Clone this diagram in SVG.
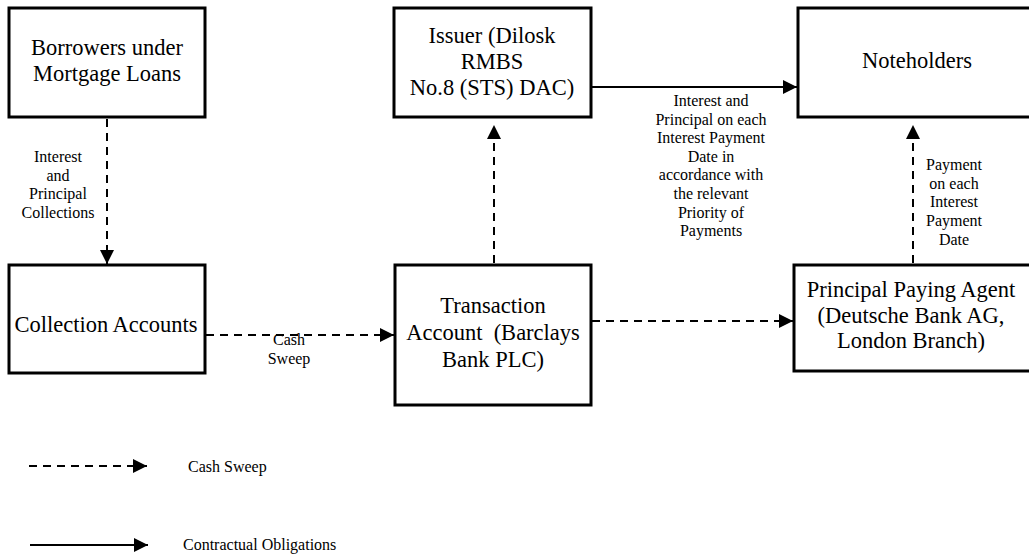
<svg xmlns="http://www.w3.org/2000/svg" width="1029" height="556" viewBox="0 0 1029 556">
<style>
.box{fill:#fff;stroke:#000;stroke-width:3}
.big{font-size:22.5px;fill:#000;text-anchor:middle}
.sm{font-size:16px;fill:#000;text-anchor:middle}
.lg{font-size:16px;fill:#000}
.dash{fill:none;stroke:#000;stroke-width:2;stroke-dasharray:8,6}
.solid{fill:none;stroke:#000;stroke-width:2}
</style>
<defs>
<marker id="ah" markerUnits="userSpaceOnUse" markerWidth="14" markerHeight="14" refX="14" refY="7" orient="auto">
<path d="M0,0 L14,7 L0,14 z" fill="#000"/>
</marker>
</defs>
<rect width="1029" height="556" fill="#fff"/>
<g id="connectors">
<line class="dash" x1="107" y1="119" x2="107" y2="264" marker-end="url(#ah)"/>
<line class="dash" x1="206" y1="335" x2="394" y2="335" marker-end="url(#ah)"/>
<line class="dash" x1="592" y1="321" x2="793" y2="321" marker-end="url(#ah)"/>
<line class="dash" x1="494" y1="263" x2="494" y2="125" marker-end="url(#ah)"/>
<line class="dash" x1="913" y1="263" x2="913" y2="125" marker-end="url(#ah)"/>
<line class="solid" x1="592" y1="87" x2="797" y2="87" marker-end="url(#ah)"/>
<text class="sm" style="font-family:'Liberation Serif',serif"><tspan x="58" y="162">Interest</tspan><tspan x="58" y="180.5">and</tspan><tspan x="58" y="199">Principal</tspan><tspan x="58" y="217.5">Collections</tspan></text>
<text class="sm" style="font-family:'Liberation Serif',serif"><tspan x="289" y="345">Cash</tspan><tspan x="289" y="364">Sweep</tspan></text>
<text class="sm" style="font-family:'Liberation Serif',serif"><tspan x="711" y="106">Interest and</tspan><tspan x="711" y="124.6">Principal on each</tspan><tspan x="711" y="143.2">Interest Payment</tspan><tspan x="711" y="161.8">Date in</tspan><tspan x="711" y="180.4">accordance with</tspan><tspan x="711" y="199">the relevant</tspan><tspan x="711" y="217.6">Priority of</tspan><tspan x="711" y="236.2">Payments</tspan></text>
<text class="sm" style="font-family:'Liberation Serif',serif"><tspan x="954" y="170">Payment</tspan><tspan x="954" y="188.7">on each</tspan><tspan x="954" y="207.4">Interest</tspan><tspan x="954" y="226.1">Payment</tspan><tspan x="954" y="244.8">Date</tspan></text>
</g>
<g id="borrowers">
<rect class="box" x="9" y="8" width="196" height="109"/>
<text class="big" style="font-family:'Liberation Serif',serif"><tspan x="107" y="55">Borrowers under</tspan><tspan x="107" y="81">Mortgage Loans</tspan></text>
</g>
<g id="issuer">
<rect class="box" x="394" y="8" width="197" height="109"/>
<text class="big" style="font-family:'Liberation Serif',serif"><tspan x="492" y="43">Issuer (Dilosk</tspan><tspan x="492" y="69">RMBS</tspan><tspan x="492" y="95">No.8 (STS) DAC)</tspan></text>
</g>
<g id="noteholders">
<rect class="box" x="798" y="8" width="238" height="109"/>
<text class="big" style="font-family:'Liberation Serif',serif" x="917" y="68">Noteholders</text>
</g>
<g id="collection">
<rect class="box" x="9" y="265" width="196" height="108"/>
<text class="big" style="font-family:'Liberation Serif',serif" x="106" y="332">Collection Accounts</text>
</g>
<g id="transaction">
<rect class="box" x="395" y="265" width="196" height="140"/>
<text class="big" style="font-family:'Liberation Serif',serif" xml:space="preserve"><tspan x="493" y="313">Transaction</tspan><tspan x="493" y="340">Account  (Barclays</tspan><tspan x="493" y="367">Bank PLC)</tspan></text>
</g>
<g id="paying-agent">
<rect class="box" x="794" y="265" width="240" height="106"/>
<text class="big" style="font-family:'Liberation Serif',serif"><tspan x="911" y="297">Principal Paying Agent</tspan><tspan x="911" y="323">(Deutsche Bank AG,</tspan><tspan x="911" y="348">London Branch)</tspan></text>
</g>
<g id="legend">
<line class="dash" x1="29" y1="466" x2="147" y2="466" marker-end="url(#ah)"/>
<text class="lg" style="font-family:'Liberation Serif',serif" x="188" y="472">Cash Sweep</text>
<line class="solid" x1="30" y1="545" x2="148" y2="545" marker-end="url(#ah)"/>
<text class="lg" style="font-family:'Liberation Serif',serif" x="183" y="550">Contractual Obligations</text>
</g>
</svg>
